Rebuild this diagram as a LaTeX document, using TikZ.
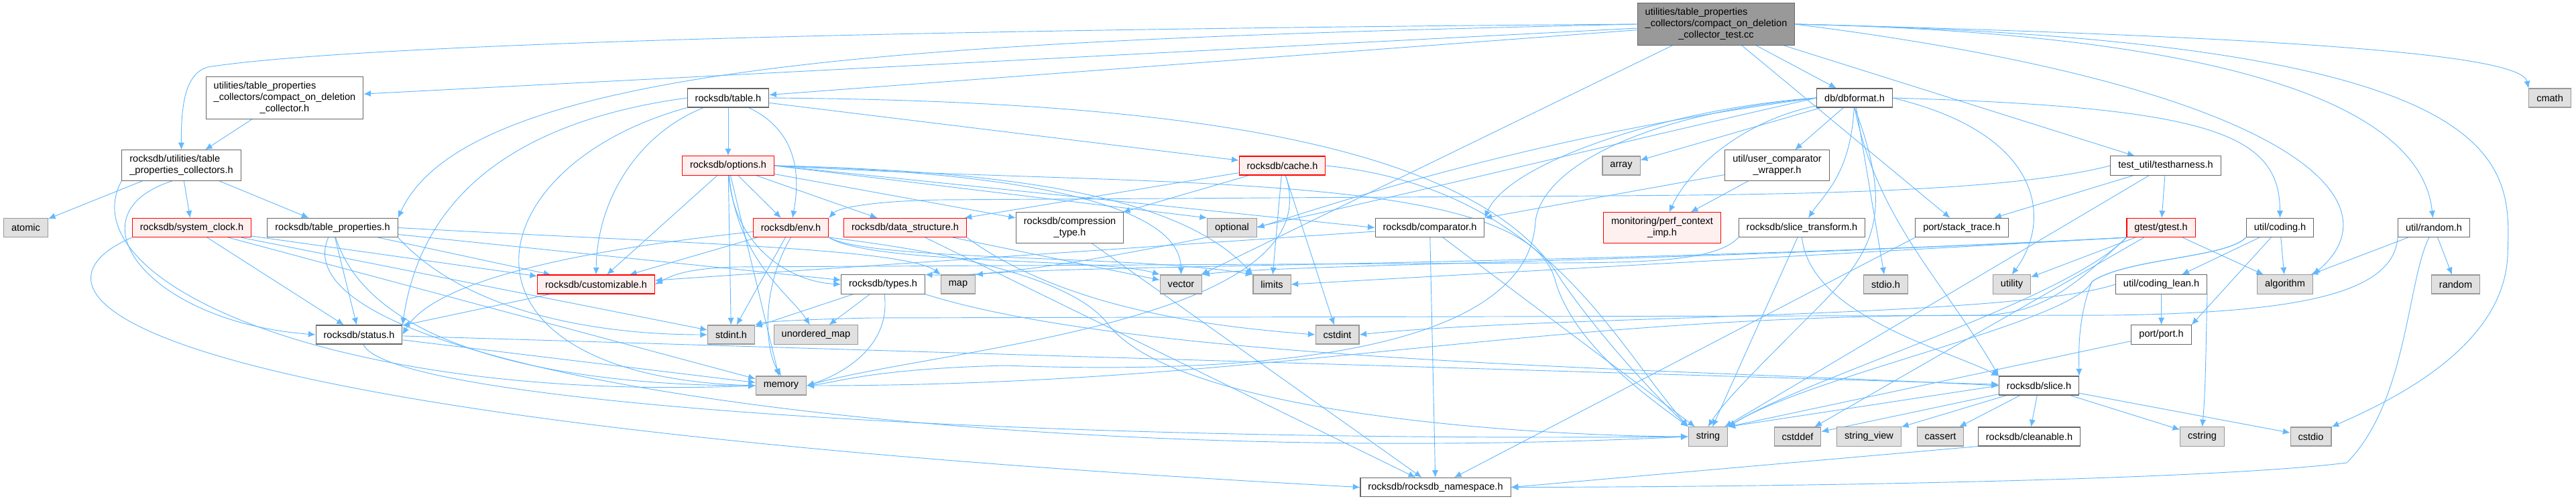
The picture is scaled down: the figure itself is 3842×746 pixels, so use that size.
\documentclass[tikz,border=0pt]{standalone}
\usepackage{fontspec}
\setmainfont{Liberation Sans}
\usetikzlibrary{arrows.meta,backgrounds}
\definecolor{edgeblue}{HTML}{63B8FF}
\definecolor{hdrgray}{HTML}{666666}
\definecolor{sysgray}{HTML}{999999}
\definecolor{sysfill}{HTML}{E0E0E0}
\definecolor{truncred}{HTML}{FF0000}
\definecolor{truncfill}{HTML}{FFF0F0}
\definecolor{srcfill}{HTML}{999999}

\begin{document}
\begin{tikzpicture}[
  x=0.75pt, y=-0.75pt,
  box/.style={rectangle, line width=0.8pt, inner xsep=8.6pt, inner ysep=5.5pt,
    minimum height=21pt, align=center, font=\fontsize{10.9}{12.75}\selectfont},
  hdr/.style={box, draw=hdrgray, fill=white},
  sys/.style={box, draw=sysgray, fill=sysfill},
  trunc/.style={box, draw=truncred, fill=truncfill},
  srcfile/.style={box, draw=hdrgray, fill=srcfill},
  dep/.style={-{Latex[length=8pt,width=7pt]}, draw=edgeblue, line width=0.7pt}
]
\useasboundingbox (0,0) rectangle (3842,746);

\node[srcfile] (src) at (2559.5,36) {\rlap{utilities/table\_properties}\phantom{\_collectors/compact\_on\_deletion}\\\_collectors/compact\_on\_deletion\\\_collector\_test.cc};

\node[hdr] (cod) at (424.5,146) {\rlap{utilities/table\_properties}\phantom{\_collectors/compact\_on\_deletion}\\\_collectors/compact\_on\_deletion\\\_collector.h};
\node[hdr] (tableh) at (1086,146) {rocksdb/table.h};
\node[hdr] (dbformat) at (2766,146) {db/dbformat.h};
\node[sys] (cmath) at (3803,146) {cmath};

\node[hdr] (tpc) at (270.5,246.5) {\rlap{rocksdb/utilities/table}\phantom{\_properties\_collectors.h}\\\_properties\_collectors.h};
\node[trunc] (options) at (1086,247) {rocksdb/options.h};
\node[trunc] (cache) at (1912.5,247) {rocksdb/cache.h};
\node[sys] (array) at (2418,247) {array};
\node[hdr] (ucw) at (2650.5,246.5) {util/user\_comparator\\\_wrapper.h};
\node[hdr] (testharness) at (3230,247) {test\_util/testharness.h};

\node[sys] (atomic) at (38.5,339.5) {atomic};
\node[trunc] (sysclock) at (286,339.5) {rocksdb/system\_clock.h};
\node[hdr] (tabprops) at (496,339.5) {rocksdb/table\_properties.h};
\node[trunc] (env) at (1179.5,339.5) {rocksdb/env.h};
\node[trunc] (datastruct) at (1350,339.5) {rocksdb/data\_structure.h};
\node[hdr] (comptype) at (1595.5,339.5) {rocksdb/compression\\\_type.h};
\node[sys] (optional) at (1837.5,339.5) {optional};
\node[hdr] (comparator) at (2132.5,339.5) {rocksdb/comparator.h};
\node[trunc] (perfctx) at (2479,339.5) {monitoring/perf\_context\\\_imp.h};
\node[hdr] (slicetrans) at (2687.5,339.5) {rocksdb/slice\_transform.h};
\node[hdr] (stacktrace) at (2926,339.5) {port/stack\_trace.h};
\node[trunc] (gtest) at (3223,339.5) {gtest/gtest.h};
\node[hdr] (coding) at (3400.5,339.5) {util/coding.h};
\node[hdr] (randomh) at (3630,339.5) {util/random.h};

\node[trunc] (customizable) at (889,424) {rocksdb/customizable.h};
\node[hdr] (types) at (1317,424) {rocksdb/types.h};
\node[sys] (map) at (1429,424) {map};
\node[sys] (vector) at (1761.5,424) {vector};
\node[sys] (limits) at (1897,424) {limits};
\node[sys] (stdio) at (2812.5,424) {stdio.h};
\node[sys] (utility) at (3000.5,424) {utility};
\node[hdr] (codinglean) at (3223.5,424) {util/coding\_lean.h};
\node[sys] (algorithm) at (3408,424) {algorithm};
\node[sys] (random) at (3662.5,424) {random};

\node[hdr] (status) at (535.5,499) {rocksdb/status.h};
\node[sys] (stdint) at (1090.5,499) {stdint.h};
\node[sys] (umap) at (1217,499) {unordered\_map};
\node[sys] (cstdint) at (1994.5,499) {cstdint};
\node[hdr] (port) at (3223.5,499) {port/port.h};

\node[sys] (memory) at (1165,575) {memory};
\node[hdr] (slice) at (3041,575) {rocksdb/slice.h};

\node[sys] (string) at (2547.5,651) {string};
\node[sys] (cstddef) at (2681,651) {cstddef};
\node[sys] (stringview) at (2787.5,651) {string\_view};
\node[sys] (cassert) at (2894,651) {cassert};
\node[hdr] (cleanable) at (3026.5,651) {rocksdb/cleanable.h};
\node[sys] (cstring) at (3284.5,651) {cstring};
\node[sys] (cstdio) at (3446.5,651) {cstdio};

\node[hdr] (rns) at (2141,726.5) {rocksdb/rocksdb\_namespace.h};

\begin{scope}[on background layer]
\draw[dep] (src) -- (cod);
\draw[dep] (src.west) .. controls (1200,45) and (500,70) .. (310,100) .. controls (275,110) and (270,160) .. (tpc.north);
\draw[dep] (src.west) .. controls (1400,60) and (700,90) .. (tabprops.north east);
\draw[dep] (src) -- (tableh);
\draw[dep] (src) -- (dbformat);
\draw[dep] (src) -- (testharness);
\draw[dep] (src) -- (stacktrace);
\draw[dep] (src) -- (vector);
\draw[dep] (src.east) .. controls (3300,50) and (3610,150) .. (randomh);
\draw[dep] (src.east) .. controls (3400,55) and (3760,80) .. (cmath.north west);
\draw[dep] (src.east) .. controls (3420,130) and (3580,300) .. (algorithm.north east);
\draw[dep] (src.east) .. controls (3760,60) and (3745,240) .. (3740,380) .. controls (3735,520) and (3560,600) .. (cstdio.north east);

\draw[dep] (cod) -- (tpc);

\draw[dep] (tpc) -- (atomic);
\draw[dep] (tpc) -- (sysclock);
\draw[dep] (tpc) -- (tabprops);
\draw[dep] (tpc.240) .. controls (100,320) and (220,480) .. (status.west);
\draw[dep] (tpc.south west) .. controls (100,420) and (500,600) .. (memory.west);

\draw[dep] (sysclock) -- (status);
\draw[dep] (sysclock) -- (customizable);
\draw[dep] (sysclock) -- (stdint);
\draw[dep] (sysclock) -- (memory);
\draw[dep] (sysclock.south west) .. controls (40,420) and (40,620) .. (rns.west);

\draw[dep] (tabprops) -- (status);
\draw[dep] (tabprops) -- (customizable);
\draw[dep] (tabprops.south east) .. controls (700,470) and (900,499) .. (stdint.west);
\draw[dep] (tabprops) .. controls (560,540) and (900,575) .. (memory.west);
\draw[dep] (tabprops) .. controls (400,560) and (1500,700) .. (string.west);
\draw[dep] (tabprops.east) .. controls (1000,362) and (1350,370) .. (map.north west);
\draw[dep] (tabprops) -- (types);

\draw[dep] (tableh) -- (options);
\draw[dep] (tableh) .. controls (1200,200) and (1190,280) .. (env);
\draw[dep] (tableh) -- (cache);
\draw[dep] (tableh.west) .. controls (700,190) and (620,350) .. (status.north east);
\draw[dep] (tableh) .. controls (950,200) and (890,300) .. (customizable);
\draw[dep] (tableh.south west) .. controls (700,250) and (650,560) .. (memory.west);
\draw[dep] (tableh.east) .. controls (1700,150) and (2200,200) .. (2330,420) .. controls (2400,520) and (2480,600) .. (string.north west);

\draw[dep] (options) -- (env);
\draw[dep] (options) -- (customizable);
\draw[dep] (options) -- (stdint);
\draw[dep] (options) -- (memory);
\draw[dep] (options) .. controls (1100,390) and (1180,440) .. (umap);
\draw[dep] (options) .. controls (1095,370) and (1180,420) .. (types.west);
\draw[dep] (options) -- (datastruct);
\draw[dep] (options) -- (comptype);
\draw[dep] (options.east) -- (optional.north west);
\draw[dep] (options.east) -- (comparator.west);
\draw[dep] (options.east) .. controls (1500,255) and (1760,290) .. (limits.north west);
\draw[dep] (options.east) .. controls (1450,255) and (1760,290) .. (vector.north);
\draw[dep] (options.east) .. controls (1700,280) and (2280,250) .. (2320,420) .. controls (2350,520) and (2470,600) .. (string.north west);

\draw[dep] (datastruct.south east) .. controls (1600,470) and (1850,490) .. (cstdint.west);
\draw[dep] (datastruct) -- (vector);
\draw[dep] (datastruct) -- (rns);

\draw[dep] (comptype) -- (rns);

\draw[dep] (cache) -- (datastruct);
\draw[dep] (cache) -- (comptype);
\draw[dep] (cache) -- (limits);
\draw[dep] (cache) -- (cstdint);
\draw[dep] (cache) .. controls (1990,480) and (1400,520) .. (memory.east);
\draw[dep] (cache.east) .. controls (2300,280) and (2400,500) .. (string.north west);

\draw[dep] (comparator) -- (customizable);
\draw[dep] (comparator) -- (rns);
\draw[dep] (comparator) -- (string);

\draw[dep] (customizable) -- (status);

\draw[dep] (types) -- (stdint);
\draw[dep] (types) -- (umap);
\draw[dep] (types) .. controls (1330,520) and (1250,560) .. (memory.east);
\draw[dep] (types.south east) .. controls (1700,540) and (2500,550) .. (slice.west);

\draw[dep] (status) -- (memory);
\draw[dep] (status) .. controls (580,600) and (1500,660) .. (string.west);
\draw[dep] (status) -- (slice);

\draw[dep] (env) -- (customizable);
\draw[dep] (env) .. controls (800,380) and (640,430) .. (status.east);
\draw[dep] (env) -- (stdint);
\draw[dep] (env.south) .. controls (1135,430) and (1140,520) .. (memory.north);
\draw[dep] (env.south east) .. controls (1300,390) and (1700,380) .. (limits.north west);
\draw[dep] (env.south east) .. controls (1300,395) and (1650,385) .. (vector.north west);
\draw[dep] (env.south east) .. controls (1450,380) and (1600,420) .. (1650,480) .. controls (1750,620) and (2300,650) .. (string.west);

\draw[dep] (dbformat) -- (ucw);
\draw[dep] (dbformat) .. controls (2760,260) and (2720,290) .. (slicetrans);
\draw[dep] (dbformat) -- (array);
\draw[dep] (dbformat) .. controls (2600,180) and (2520,250) .. (perfctx);
\draw[dep] (dbformat.west) .. controls (2500,160) and (2250,240) .. (comparator.north east);
\draw[dep] (dbformat.west) .. controls (2300,200) and (2000,300) .. (optional.east);
\draw[dep] (dbformat.west) .. controls (2200,260) and (1600,420) .. (types.north east);
\draw[dep] (dbformat.west) .. controls (2450,170) and (2300,250) .. (2290,330) .. controls (2280,520) and (1900,560) .. (1500,545) .. controls (1300,550) and (1250,570) .. (memory.east);
\draw[dep] (dbformat.south) .. controls (2800,330) and (2900,420) .. (slice.north west);
\draw[dep] (dbformat) -- (stdio);
\draw[dep] (dbformat.east) .. controls (3050,200) and (3060,330) .. (utility.north);
\draw[dep] (dbformat.east) .. controls (3300,160) and (3400,200) .. (coding.north);
\draw[dep] (dbformat.south) .. controls (2830,330) and (2790,380) .. (2700,470) .. controls (2620,550) and (2570,600) .. (string.north);

\draw[dep] (ucw) -- (perfctx);
\draw[dep] (ucw) -- (comparator);

\draw[dep] (slicetrans) -- (string);
\draw[dep] (slicetrans.south) .. controls (2700,470) and (2900,520) .. (slice.north west);
\draw[dep] (slicetrans.south west) .. controls (2560,390) and (2450,392) .. (2300,392) -- (1100,398) .. controls (1020,400) and (1000,412) .. (customizable.east);

\draw[dep] (stacktrace.south west) -- (rns);

\draw[dep] (testharness) -- (gtest);
\draw[dep] (testharness) -- (stacktrace);
\draw[dep] (testharness.west) .. controls (3000,285) and (2700,290) .. (2400,292) -- (1400,298) .. controls (1300,300) and (1250,310) .. (env.north east);
\draw[dep] (testharness) -- (string);

\draw[dep] (gtest) -- (algorithm);
\draw[dep] (gtest) -- (utility);
\draw[dep] (gtest.south west) -- (limits.east);
\draw[dep] (gtest.south west) .. controls (2500,390) and (1900,395) .. (vector.north east);
\draw[dep] (gtest.south west) .. controls (2400,395) and (1600,395) .. (map.north east);
\draw[dep] (gtest.south west) .. controls (3100,420) and (3050,470) .. (2950,470) .. controls (2266,470) and (1887,575) .. (memory.east);
\draw[dep] (gtest) -- (cstddef);
\draw[dep] (gtest.south west) .. controls (3080,450) and (2700,560) .. (string.north east);

\draw[dep] (coding) -- (algorithm);
\draw[dep] (coding) -- (codinglean);
\draw[dep] (coding) -- (port.north east);
\draw[dep] (coding.south west) .. controls (3320,385) and (3170,385) .. (3120,420) .. controls (3090,480) and (2700,560) .. (string.north east);
\draw[dep] (coding.south west) .. controls (3320,385) and (3170,385) .. (3120,420) .. controls (3100,470) and (3100,520) .. (slice.north east);

\draw[dep] (codinglean) -- (port);
\draw[dep] (codinglean.south east) .. controls (3290,500) and (3290,580) .. (cstring.north);
\draw[dep] (codinglean.west) .. controls (3000,475) and (2300,470) .. (cstdint.east);

\draw[dep] (port) -- (string.north east);

\draw[dep] (randomh) -- (random);
\draw[dep] (randomh) -- (algorithm);
\draw[dep] (randomh.south west) .. controls (3570,440) and (3420,466) .. (3150,470) -- (1300,474) .. controls (1200,476) and (1140,480) .. (stdint.north east);
\draw[dep] (randomh) .. controls (3590,420) and (3590,600) .. (3500,690) .. controls (3300,715) and (2700,726) .. (rns.east);

\draw[dep] (cleanable.south west) -- (rns.east);

\draw[dep] (slice) -- (cleanable);
\draw[dep] (slice) -- (cassert);
\draw[dep] (slice) -- (stringview);
\draw[dep] (slice) -- (cstddef);
\draw[dep] (slice.west) -- (string.north east);
\draw[dep] (slice) -- (cstring);
\draw[dep] (slice) -- (cstdio);
\end{scope}
\end{tikzpicture}
\end{document}
